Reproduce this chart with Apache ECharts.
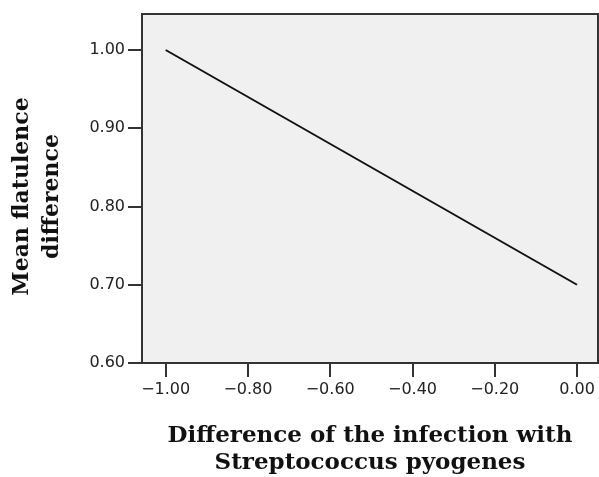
<!DOCTYPE html>
<html>
<head>
<meta charset="utf-8">
<style>
  html, body { margin: 0; padding: 0; background: #ffffff; }
  #chart { width: 599px; height: 477px; }
</style>
<script src="https://cdn.jsdelivr.net/npm/echarts@6/dist/echarts.min.js"></script>
</head>
<body>
<div id="chart"></div>
<script>
  // values
  const infectionDiff = [-1.00, 0.00];
  const flatulenceDiff = [1.00, 0.70];
  const xTicks = [-1.00, -0.80, -0.60, -0.40, -0.20, 0.00];
  const yTicks = [0.60, 0.70, 0.80, 0.90, 1.00];

  const fmt = function (v) {
    return v.toFixed(2).replace('-', '\u2212');
  };

  const chart = echarts.init(document.getElementById('chart'));
  const option = {
    animation: false,
    grid: {
      left: 142, top: 14, right: 1, bottom: 114,
      outerBoundsMode: 'none',
      containLabel: false,
      show: true,
      backgroundColor: '#f0f0f0',
      borderColor: '#333',
      borderWidth: 2
    },
    xAxis: {
      type: 'value',
      min: -1.0576,
      max: 0.051,
      name: 'Difference of the infection with\nStreptococcus pyogenes',
      nameLocation: 'middle',
      nameGap: 60,
      nameTextStyle: {
        fontFamily: 'DejaVu Serif', fontWeight: 'bold', fontSize: 23,
        color: '#111', lineHeight: 27
      },
      splitLine: { show: false },
      axisLine: { show: true, onZero: false, lineStyle: { color: '#333', width: 2 } },
      axisTick: { show: true, length: 14, customValues: xTicks, lineStyle: { color: '#333', width: 2 } },
      axisLabel: {
        customValues: xTicks, formatter: fmt, margin: 19,
        fontFamily: 'DejaVu Sans', fontSize: 16, color: '#222'
      }
    },
    yAxis: {
      type: 'value',
      min: 0.60,
      max: 1.046,
      name: 'Mean flatulence\ndifference',
      nameLocation: 'middle',
      nameGap: 75,
      nameTextStyle: {
        fontFamily: 'DejaVu Serif', fontWeight: 'bold', fontSize: 22,
        color: '#111', lineHeight: 30, padding: [0, 16, 0, 0]
      },
      splitLine: { show: false },
      axisLine: { show: true, onZero: false, lineStyle: { color: '#333', width: 2 } },
      axisTick: { show: true, length: 14, customValues: yTicks, lineStyle: { color: '#333', width: 2 } },
      axisLabel: {
        customValues: yTicks, formatter: fmt, margin: 17,
        fontFamily: 'DejaVu Sans', fontSize: 16, color: '#222'
      }
    },
    series: [{
      type: 'line',
      data: infectionDiff.map(function (x, i) { return [x, flatulenceDiff[i]]; }),
      showSymbol: false,
      lineStyle: { color: '#111', width: 2 }
    }]
  };
  chart.setOption(option);
</script>
</body>
</html>
